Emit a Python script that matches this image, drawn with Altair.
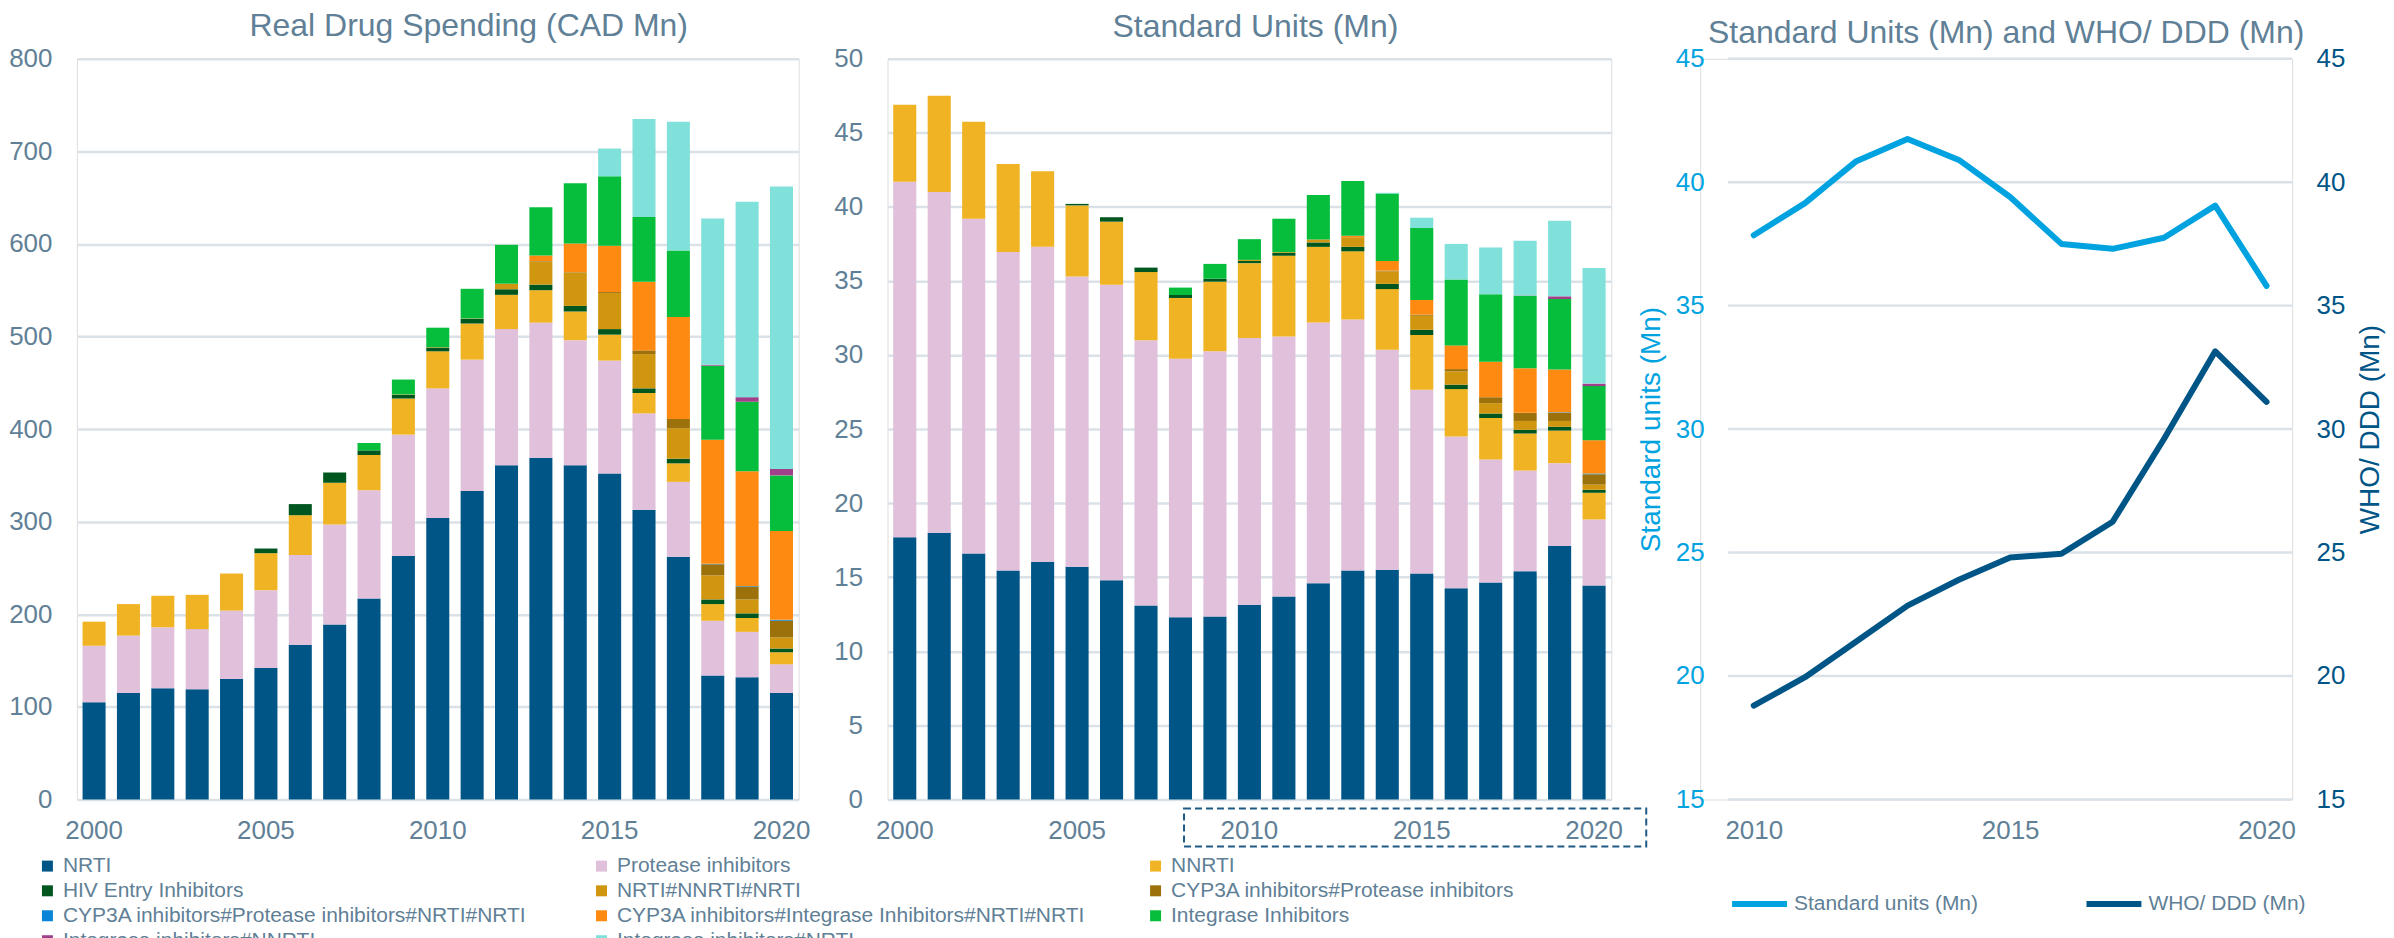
import altair as alt
import pandas as pd

FONT = "Liberation Sans, Arial, sans-serif"
TXT = "#5F8096"
GRID = "#DAE2E8"
CYAN = "#00A3E0"
NAVY = "#005587"

years = list(range(2000, 2021))
categories = [
    "NRTI", "Protease inhibitors", "NNRTI", "HIV Entry Inhibitors", "NRTI#NNRTI#NRTI",
    "CYP3A inhibitors#Protease inhibitors", "CYP3A inhibitors#Protease inhibitors#NRTI#NRTI",
    "CYP3A inhibitors#Integrase Inhibitors#NRTI#NRTI", "Integrase Inhibitors",
    "Integrase inhibitors#NNRTI", "Integrase inhibitors#NRTI",
]
colors = ["#005587", "#E0C0DA", "#F0B323", "#00561F", "#D0960F", "#9C700A",
          "#0A84D6", "#FF8A12", "#06BE3C", "#A0408A", "#80E0DA"]

# Real Drug Spending (CAD Mn)
spend_nrti = [105, 115, 120, 119, 130, 142, 167, 189, 217, 263, 304, 333, 361, 369, 361, 352, 313, 262, 134, 132, 115]
spend_pi = [61, 62, 66, 65, 74, 84, 97, 108, 117, 131, 140, 142, 147, 146, 135, 122, 104, 81, 59, 49, 31]
spend_nnrti = [26, 34, 34, 37, 40, 40, 43, 45, 38, 39, 40, 39, 37, 35, 31, 28, 22, 20, 18, 15, 13]
spend_entry = [0, 0, 0, 0, 0, 5, 12, 11, 5, 4, 4, 5, 6, 6, 6, 6, 5, 5, 5, 5, 4]
spend_nrti_nnrti = [0, 0, 0, 0, 0, 0, 0, 0, 0, 0.5, 0.5, 0.5, 6, 25, 36, 39, 37, 33, 26, 15, 12]
spend_cyp_pi = [0] * 13 + [0.5, 0.5, 1, 4, 10, 12, 14, 18]
spend_cyp_pi_nrti = [0] * 18 + [0.5, 0.5, 1]
spend_cyp_insti = [0] * 13 + [6, 31, 50, 74, 110, 134, 124, 96]
spend_insti = [0] * 8 + [8, 16, 21, 32, 42, 52, 65, 75, 70, 72, 80, 75, 60]
spend_insti_nnrti = [0] * 18 + [1, 5, 7]
spend_insti_nrti = [0] * 15 + [30, 106, 139, 158, 211, 305]

# Standard Units (Mn)
su_nrti = [17.7, 18.0, 16.6, 15.45, 16.05, 15.7, 14.8, 13.1, 12.3, 12.35, 13.15, 13.7, 14.6, 15.45, 15.5, 15.25, 14.25, 14.65, 15.4, 17.1, 14.45]
su_pi = [24.0, 23.0, 22.6, 21.5, 21.25, 19.6, 19.95, 17.9, 17.45, 17.9, 18.0, 17.55, 17.6, 16.95, 14.85, 12.4, 10.25, 8.3, 6.8, 5.6, 4.45]
su_nnrti = [5.2, 6.5, 6.55, 5.95, 5.1, 4.8, 4.25, 4.6, 4.1, 4.7, 5.05, 5.45, 5.1, 4.6, 4.1, 3.7, 3.2, 2.8, 2.5, 2.2, 1.8]
su_entry = [0, 0, 0, 0, 0, 0.1, 0.3, 0.3, 0.2, 0.2, 0.15, 0.2, 0.3, 0.3, 0.35, 0.35, 0.3, 0.3, 0.25, 0.25, 0.2]
su_nrti_nnrti = [0] * 10 + [0.07, 0.05, 0.2, 0.65, 0.85, 0.95, 0.9, 0.7, 0.6, 0.4, 0.35]
su_cyp_pi = [0] * 14 + [0.05, 0.07, 0.15, 0.4, 0.55, 0.55, 0.7]
su_cyp_pi_nrti = [0] * 19 + [0.03, 0.05]
su_cyp_insti = [0] * 13 + [0.1, 0.65, 1.0, 1.6, 2.4, 3.0, 2.9, 2.25]
su_insti = [0] * 8 + [0.5, 1.0, 1.4, 2.25, 3.0, 3.7, 4.55, 4.85, 4.45, 4.55, 4.9, 4.75, 3.65]
su_insti_nnrti = [0] * 18 + [0.02, 0.18, 0.17]
su_insti_nrti = [0] * 14 + [0.05, 0.7, 2.4, 3.15, 3.7, 5.1, 7.8]

# Standard Units (Mn) and WHO/ DDD (Mn)
line_years = list(range(2010, 2021))
su_line = [37.85, 39.15, 40.85, 41.75, 40.9, 39.4, 37.5, 37.3, 37.75, 39.05, 35.8]
ddd_line = [18.8, 19.95, 21.4, 22.85, 23.9, 24.8, 24.95, 26.25, 29.6, 33.15, 31.1]
line_names = ["Standard units (Mn)", "WHO/ DDD (Mn)"]
right_ticks = [15, 20, 25, 30, 35, 40, 45]


def long_df(arrs):
    rows = []
    for ci, (cat, arr) in enumerate(zip(categories, arrs)):
        for yr, v in zip(years, arr):
            if v > 0:
                rows.append({"year": yr, "cls": cat, "value": v, "idx": ci})
    return pd.DataFrame(rows)


df_spend = long_df([spend_nrti, spend_pi, spend_nnrti, spend_entry, spend_nrti_nnrti, spend_cyp_pi,
                    spend_cyp_pi_nrti, spend_cyp_insti, spend_insti, spend_insti_nnrti, spend_insti_nrti])
df_su = long_df([su_nrti, su_pi, su_nnrti, su_entry, su_nrti_nnrti, su_cyp_pi,
                 su_cyp_pi_nrti, su_cyp_insti, su_insti, su_insti_nnrti, su_insti_nrti])
df_line = pd.DataFrame({"year": line_years, "su": su_line, "ddd": ddd_line,
                        "s1": line_names[0], "s2": line_names[1]})
df_grid = pd.DataFrame({"v": right_ticks, "x0": 2009.5, "x1": 2020.5})


def title(text, dx, offset):
    return alt.TitleParams(text=text, fontSize=32, font=FONT, color=TXT, fontWeight="normal",
                           anchor="middle", frame="group", dx=dx, offset=offset)


bar_legend = alt.Legend(title=None, orient="none", legendX=-40, legendY=798, columns=3,
                        direction="horizontal",
                        symbolType="square", symbolSize=121, symbolStrokeWidth=0,
                        labelFontSize=21, labelColor=TXT, labelFont=FONT, labelLimit=800,
                        columnPadding=59, rowPadding=3, gridAlign="all", labelOffset=5, padding=0)


def bar_panel(df, ttl, dom, step, width, dx):
    x = alt.X("year:O", title=None,
              scale=alt.Scale(paddingInner=0.33, paddingOuter=0.165),
              axis=alt.Axis(values=[2000, 2005, 2010, 2015, 2020], labelAngle=0, ticks=False,
                            domain=False, grid=False, labelPadding=18, labelFontSize=26,
                            labelColor=TXT, labelFont=FONT))
    y = alt.Y("value:Q", stack="zero", title=None,
              scale=alt.Scale(domain=dom, nice=False),
              axis=alt.Axis(values=list(range(dom[0], dom[1] + 1, step)), ticks=False, domain=False,
                            grid=True, gridColor=GRID, gridWidth=2.5, labelPadding=25,
                            labelFontSize=26, labelColor=TXT, labelFont=FONT))
    color = alt.Color("cls:N", scale=alt.Scale(domain=categories, range=colors), legend=bar_legend)
    return alt.Chart(df).mark_bar().encode(
        x=x, y=y, color=color, order=alt.Order("idx:Q", sort="ascending")
    ).properties(width=width, height=742, title=title(ttl, dx, 3))


p1 = bar_panel(df_spend, "Real Drug Spending (CAD Mn)", [0, 800], 100, 723, 31)
p2_bars = bar_panel(df_su, "Standard Units (Mn)", [0, 50], 5, 725, 6)
box = alt.Chart(pd.DataFrame({"a": [0]})).mark_rect(
    filled=False, stroke="#1F5A85", strokeWidth=2, strokeDash=[7, 4]
).encode(x=alt.value(297), x2=alt.value(760), y=alt.value(751), y2=alt.value(789))
p2 = alt.layer(p2_bars, box).properties(width=725, height=742,
                                         title=title("Standard Units (Mn)", 6, 2))

x3_scale = alt.Scale(domain=[2009.5, 2020.5], range=[28, 593], nice=False, zero=False)
x3_axis = alt.Axis(values=[2010, 2015, 2020], format="d", grid=False, ticks=False, domain=False,
                   labelPadding=18, labelFontSize=26, labelColor=TXT, labelFont=FONT)
x3 = alt.X("year:Q", title=None, scale=x3_scale, axis=x3_axis)
y3_scale = alt.Scale(domain=[15, 45], nice=False, zero=False)
line_scale = alt.Scale(domain=line_names, range=[CYAN, NAVY])
line_legend = alt.Legend(title=None, orient="none", legendX=1655, legendY=816, direction="horizontal",
                         symbolType="stroke", symbolSize=3025, symbolStrokeWidth=6,
                         labelFontSize=21, labelColor=TXT, labelFont=FONT, labelLimit=500,
                         columnPadding=96, labelOffset=4, padding=0)

grid3 = alt.Chart(df_grid).mark_rule(color=GRID, strokeWidth=2.5).encode(
    x=alt.X("x0:Q", title=None, scale=x3_scale, axis=x3_axis),
    x2="x1:Q",
    y=alt.Y("v:Q", scale=y3_scale, axis=None),
)
l1 = alt.Chart(df_line).mark_line(strokeWidth=6, strokeJoin="round", strokeCap="round").encode(
    x=x3,
    y=alt.Y("su:Q", scale=y3_scale,
            axis=alt.Axis(values=right_ticks, orient="left", title="Standard units (Mn)", offset=-28,
                          titleColor=CYAN, titleFontSize=28, titleFontWeight="normal", titleFont=FONT,
                          titlePadding=10, ticks=False, domain=False, grid=False,
                          labelPadding=24, labelFontSize=26, labelColor=CYAN, labelFont=FONT)),
    stroke=alt.Stroke("s1:N", scale=line_scale, legend=line_legend),
)
l2 = alt.Chart(df_line).mark_line(strokeWidth=6, strokeJoin="round", strokeCap="round").encode(
    x=x3,
    y=alt.Y("ddd:Q", scale=y3_scale,
            axis=alt.Axis(values=right_ticks, orient="right", title="WHO/ DDD (Mn)",
                          titleColor=NAVY, titleFontSize=28, titleFontWeight="normal", titleFont=FONT,
                          titleAngle=270, titleBaseline="top", titlePadding=12, ticks=False,
                          domain=False, grid=False, labelPadding=24, labelFontSize=26,
                          labelColor=NAVY, labelFont=FONT)),
    stroke=alt.Stroke("s2:N", scale=line_scale, legend=line_legend),
)
p3 = alt.layer(grid3, l1, l2).resolve_scale(y="independent").properties(
    width=593, height=742, title=title("Standard Units (Mn) and WHO/ DDD (Mn)", 10, -4))

chart = alt.hconcat(p1, p2, p3, spacing=89, bounds="flush").resolve_scale(
    x="independent", y="independent")
chart = chart.properties(padding={"left": 0, "top": 0, "right": 0, "bottom": 0}).configure_view(
    stroke=None).configure(font=FONT)

chart.save("out.html", embed_options={"renderer": "svg", "actions": False})
